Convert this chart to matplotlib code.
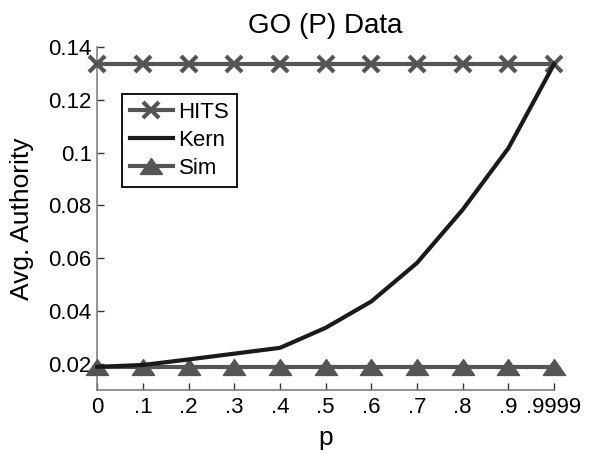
import matplotlib
matplotlib.use("Agg")
import matplotlib.pyplot as plt
from matplotlib.path import Path
import numpy as np

plt.rcParams['font.family'] = ['Liberation Sans', 'DejaVu Sans']

p_labels = ['0', '.1', '.2', '.3', '.4', '.5', '.6', '.7', '.8', '.9', '.9999']
hits = [0.1336] * 11
kern = [0.0188, 0.0195, 0.0216, 0.0238, 0.0260, 0.0336, 0.0436, 0.0582, 0.0784, 0.1017, 0.1336]
sim = [0.0188] * 11

x = np.arange(len(p_labels))

fig = plt.figure(figsize=(5.91, 4.53), dpi=100)
ax = fig.add_axes([0.1646, 0.139, 0.9374 - 0.1646, 0.8956 - 0.139])

gray = '#555555'
tri = Path([(-1.4, -1.0), (1.4, -1.0), (0.0, 1.0), (-1.4, -1.0)],
           [Path.MOVETO, Path.LINETO, Path.LINETO, Path.CLOSEPOLY])

ax.plot(x, hits, color=gray, lw=3, marker='x', ms=12, mew=3, label='HITS', clip_on=False, zorder=3)
ax.plot(x, kern, color='#1a1a1a', lw=3, label='Kern', clip_on=False, zorder=4)
ax.plot(x, sim, color=gray, lw=3, marker=tri, ms=16, mfc=gray, mec=gray, mew=1, label='Sim', clip_on=False, zorder=3)

ax.set_xlim(0, len(p_labels) - 1)
ax.set_ylim(0.01, 0.14)
ax.set_xticks(x)
ax.set_xticklabels(p_labels)
ax.set_yticks([0.02, 0.04, 0.06, 0.08, 0.1, 0.12, 0.14])
ax.set_yticklabels(['0.02', '0.04', '0.06', '0.08', '0.1', '0.12', '0.14'])

for s in ['top', 'right']:
    ax.spines[s].set_visible(False)
for s in ['left', 'bottom']:
    ax.spines[s].set_color('#808080')
    ax.spines[s].set_linewidth(1.2)
ax.tick_params(direction='in', length=5, width=1, color='#333333', labelsize=16)
ax.tick_params(axis='x', pad=5)
ax.tick_params(axis='y', pad=4)

ax.set_title('GO (P) Data', fontsize=20, pad=10)
ax.set_xlabel('p', fontsize=19, labelpad=6)
ax.set_ylabel('Avg. Authority', fontsize=19, labelpad=10)

leg = ax.legend(loc='upper left', bbox_to_anchor=(0.054, 0.864), fontsize=16,
                frameon=True, fancybox=False, handlelength=1.95, handletextpad=0.25,
                borderpad=0.35, labelspacing=0.32, borderaxespad=0)
leg.get_frame().set_edgecolor('black')
leg.get_frame().set_linewidth(1.3)
leg.get_frame().set_alpha(1)

fig.savefig('out.png', dpi=100)
